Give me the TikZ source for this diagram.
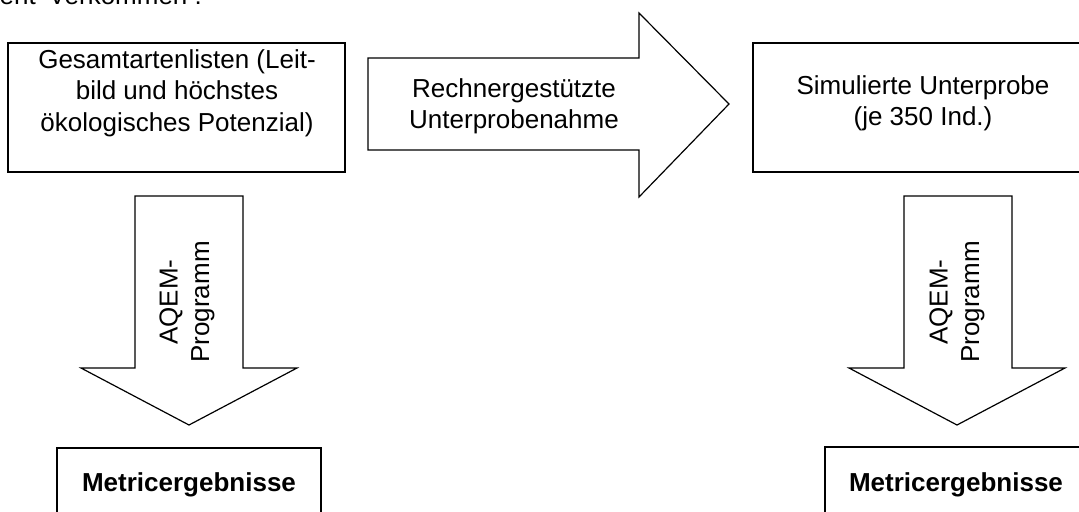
\documentclass[tikz,border=0pt]{standalone}
\usepackage{fontspec}
\setmainfont{Liberation Sans}
\begin{document}
\begin{tikzpicture}[x=0.75pt,y=-0.75pt,
  line width=0.9pt, line join=miter,
  txt/.style={font=\fontsize{19.5}{23.5}\selectfont, align=center, inner sep=0pt},
  boldtxt/.style={font=\fontsize{19.5}{23.5}\selectfont\bfseries, inner sep=0pt},
  blockarrow/.style={draw=black, fill=white, line width=0.9pt}]
\useasboundingbox (0,0) rectangle (1079,511);
\clip (0,0) rectangle (1079,511);
\fill[white] (0,0) rectangle (1079,511);
% cut-off heading at top
\node[anchor=base west, font=\fontsize{19.5}{23.5}\selectfont, inner sep=0pt] (head) at (-1,4.5) {ent\hspace{9.75pt}Verkommen :};
% boxes
\draw (8,43) rectangle (345,172);
\node[txt] (box1) at (177,93) {Gesamtartenlisten (Leit-\\bild und höchstes\\ökologisches Potenzial)};
\draw (753,43) rectangle (1095,172);
\node[txt] (box3) at (923,103) {Simulierte Unterprobe\\(je 350 Ind.)};
\draw (57,448) rectangle (321,530);
\node[boldtxt] (res1) at (189,485) {Metricergebnisse};
\draw (825,447) rectangle (1095,530);
\node[boldtxt] (res2) at (956,485) {Metricergebnisse};
% big right arrow
\draw[blockarrow] (368,58) -- (639,58) -- (639,13) -- (729,104) -- (639,197) -- (639,150) -- (368,150) -- cycle;
\node[txt] (sub) at (514,106) {Rechnergestützte\\Unterprobenahme};
% down arrows
\draw[blockarrow] (135,196) -- (243,196) -- (243,368) -- (297,368) -- (189,425) -- (81,368) -- (135,368) -- cycle;
\node[txt, rotate=90] (aqem1) at (187,302) {AQEM-\\Programm};
\draw[blockarrow] (904,196) -- (1012,196) -- (1012,368) -- (1065,368) -- (957,425) -- (849,368) -- (904,368) -- cycle;
\node[txt, rotate=90] (aqem2) at (957,302) {AQEM-\\Programm};
\end{tikzpicture}
\end{document}
